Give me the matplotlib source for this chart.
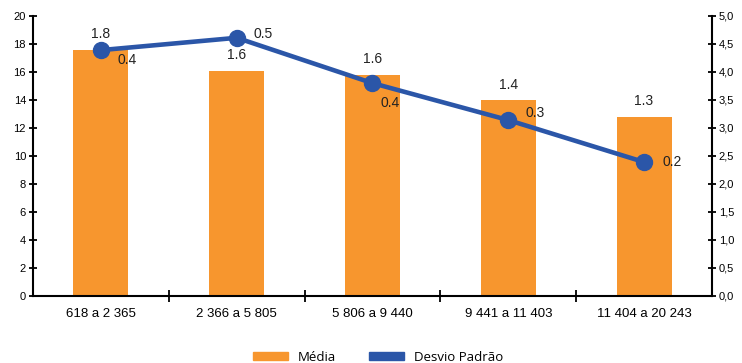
import matplotlib.pyplot as plt
from matplotlib.patches import Patch
from matplotlib.ticker import FuncFormatter

plt.rcParams['font.family'] = ['Liberation Sans', 'DejaVu Sans']

# data
categories = ['618 a 2 365', '2 366 a 5 805', '5 806 a 9 440', '9 441 a 11 403', '11 404 a 20 243']
media = [17.6, 16.1, 15.8, 14.0, 12.8]
desvio = [4.39, 4.61, 3.80, 3.14, 2.39]
media_labels = ['1.8', '1.6', '1.6', '1.4', '1.3']
desvio_labels = ['0.4', '0.5', '0.4', '0.3', '0.2']

orange = '#F7962E'
blue = '#2B56A8'

fig = plt.figure(figsize=(7.42, 3.63), dpi=100)
ax = fig.add_axes([0.0445, 0.185, 0.915, 0.771])
ax2 = ax.twinx()

x = list(range(len(categories)))
ax.bar(x, media, width=0.405, color=orange, zorder=2)
ax.set_xlim(-0.5, len(categories) - 0.5)
ax.set_ylim(0, 20)
ax.set_yticks(range(0, 21, 2))

ax2.plot(x, desvio, color=blue, lw=3.3, marker='o', ms=11.5, zorder=3)
ax2.set_ylim(0, 5)
ax2.set_yticks([i * 0.5 for i in range(11)])
ax2.yaxis.set_major_formatter(FuncFormatter(lambda v, p: f'{v:.1f}'.replace('.', ',')))

# labels on bars
for i, (v, t) in enumerate(zip(media, media_labels)):
    ax.annotate(t, (i, v), xytext=(0, 11), textcoords='offset points',
                ha='center', va='center', fontsize=10, color='#222222')

# labels on line
offs = [(19, -7), (19, 3), (13, -14), (19, 5), (20, 0)]
for i, (v, t) in enumerate(zip(desvio, desvio_labels)):
    ax2.annotate(t, (i, v), xytext=offs[i], textcoords='offset points',
                 ha='center', va='center', fontsize=10, color='#222222')

for a in (ax, ax2):
    a.spines['top'].set_visible(False)
    for s in a.spines.values():
        s.set_linewidth(1.5)
ax.spines['right'].set_visible(False)
ax2.spines['left'].set_visible(False)
ax2.spines['bottom'].set_visible(False)

ax.tick_params(axis='y', direction='inout', length=6, width=1.3, labelsize=8, pad=2)
ax2.tick_params(axis='y', direction='inout', length=6, width=1.3, labelsize=8, pad=2)
ax.set_xticks(x)
ax.set_xticklabels(categories, fontsize=9.5)
ax.set_xticks([i + 0.5 for i in x[:-1]], minor=True)
ax.tick_params(axis='x', which='major', length=0, pad=9)
ax.tick_params(axis='x', which='minor', direction='inout', length=9, width=1.3)

handles = [Patch(color=orange, label='Média'), Patch(color=blue, label='Desvio Padrão')]
fig.legend(handles=handles, loc='lower center', ncol=2, frameon=False,
           bbox_to_anchor=(0.51, -0.035), handlelength=2.6,
           handleheight=0.55, columnspacing=2.5,
           prop={'family': 'Open Sans', 'size': 9.5})

fig.savefig('out.png', dpi=100)
